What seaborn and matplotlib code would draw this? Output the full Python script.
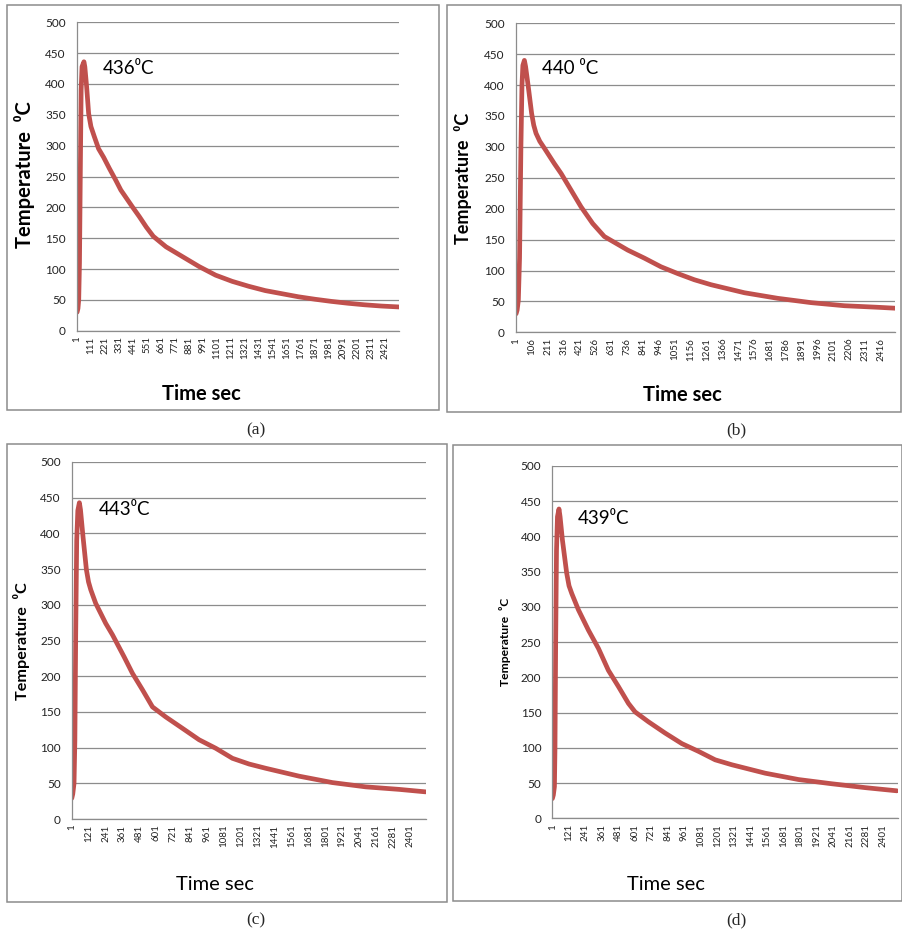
import matplotlib
matplotlib.use("Agg")
import matplotlib.pyplot as plt
from matplotlib.patches import Rectangle
import seaborn as sns

# -- datos (muestra, temperatura en C) ------------------------------------------
time_a = [1, 8, 14, 20, 27, 33, 40, 55, 62, 76, 92, 110, 136, 170, 210, 255, 305, 345, 385,
          435, 490, 545, 600, 700, 830, 960, 1090, 1220, 1350, 1480, 1610, 1740, 1870,
          2000, 2130, 2260, 2390, 2530]
temp_a = [30, 36, 50, 110, 266, 390, 428, 436, 428, 396, 352, 331, 315, 295, 281, 263, 244,
          228, 216, 201, 185, 168, 153, 136, 120, 104, 90, 80, 72, 65, 60, 55, 51,
          47.5, 44.5, 42, 40, 38.5]

time_b = [1, 8, 16, 24, 33, 40, 46, 56, 64, 82, 104, 118, 133, 158, 188, 254, 299, 365, 431,
          508, 585, 740, 850, 960, 1071, 1181, 1291, 1512, 1732, 1953, 2173, 2394, 2508]
temp_b = [30, 36, 52, 120, 300, 400, 432, 440, 430, 397, 354, 335, 322, 309, 298, 273, 257,
          230, 203, 176, 155, 133, 120, 106, 95, 85, 77, 64, 55, 48, 43, 40.5, 39]

time_c = [1, 8, 17, 23, 29, 36, 44, 55, 63, 81, 105, 120, 136, 171, 242, 290, 373, 432, 503,
          574, 668, 787, 905, 1024, 1142, 1260, 1379, 1615, 1852, 2089, 2325, 2514]
temp_c = [29, 35, 50, 110, 260, 390, 432, 443, 433, 395, 349, 332, 321, 302, 274, 258, 227,
          204, 181, 157, 143, 127, 111, 99, 85, 77, 71, 60, 51, 45, 41.5, 38]

time_d = [1, 8, 16, 20, 25, 31, 38, 49, 57, 74, 105, 122, 142, 190, 263, 336, 408, 481, 554,
          602, 699, 820, 942, 1063, 1184, 1305, 1548, 1790, 2032, 2275, 2505]
temp_d = [28, 33, 45, 100, 250, 380, 428, 439, 428, 395, 348, 330, 319, 296, 267, 241, 210,
          187, 163, 151, 137, 121, 106, 95, 83, 76, 64, 55, 49, 43.5, 39]

n_samples = {"a": 2530, "b": 2508, "c": 2514, "d": 2510}
ticks_x = {"a": list(range(1, 2422, 110)), "b": list(range(1, 2417, 105)),
           "c": list(range(1, 2402, 120)), "d": list(range(1, 2402, 120))}
ticks_y = [0, 50, 100, 150, 200, 250, 300, 350, 400, 450, 500]
peak_labels = {"a": "436\u2070C", "b": "440 \u2070C", "c": "443\u2070C", "d": "439\u2070C"}
captions = {"a": "(a)", "b": "(b)", "c": "(c)", "d": "(d)"}
datos = {"a": (time_a, temp_a), "b": (time_b, temp_b),
         "c": (time_c, temp_c), "d": (time_d, temp_d)}

# -- geometria en pixeles (imagen 902x935) --------------------------------------
W, H = 902, 935
layout = {
    # caja, ejes (l, t, r, b), ylabel (x, y, size), xlabel (x, y, peso), pico, caption
    "a": dict(box=(7, 5, 439, 410), ax=(77, 22.3, 399, 330.7), ylab=(25, 175, 14.5),
              xlab=(201.5, 394, "bold"), peak=(0.08, 0.85), cap=(256, 430)),
    "b": dict(box=(446.7, 5, 901, 411.7), ax=(516, 23.3, 895, 332.3), ylab=(463.3, 178, 13),
              xlab=(682.5, 395, "bold"), peak=(0.068, 0.855), cap=(736.7, 430)),
    "c": dict(box=(7.3, 444, 446.7, 901.7), ax=(71.7, 462, 425.7, 819), ylab=(21.7, 641, 11.6),
              xlab=(215.3, 885, "normal"), peak=(0.077, 0.868), cap=(256, 920)),
    "d": dict(box=(453.3, 445, 901.5, 901), ax=(552.3, 466, 897.7, 818.3), ylab=(505, 641.7, 8.7),
              xlab=(666, 885, "normal"), peak=(0.074, 0.852), cap=(736.7, 920)),
}

ROJO = "#C0504D"
GRIS = "#8C8C8C"

sns.set_theme(style="white")
plt.rcParams["font.family"] = ["Lato", "DejaVu Sans"]

fig = plt.figure(figsize=(W / 100, H / 100), dpi=100)
fig.patch.set_facecolor("white")

for key in ["a", "b", "c", "d"]:
    g = layout[key]
    x, y = datos[key]

    # marco del grafico (estilo Excel)
    x0, y0, x1, y1 = g["box"]
    fig.add_artist(Rectangle((x0 / W, 1 - y1 / H), (x1 - x0) / W, (y1 - y0) / H,
                             transform=fig.transFigure, fill=False,
                             edgecolor=GRIS, linewidth=1.1))

    l, t, r, b = g["ax"]
    ax = fig.add_axes([l / W, 1 - b / H, (r - l) / W, (b - t) / H])
    ax.set_facecolor("white")
    sns.lineplot(x=x, y=y, ax=ax, color=ROJO, linewidth=3.4,
                 solid_capstyle="round", solid_joinstyle="round")

    ax.set_xlim(0.5, n_samples[key] + 0.5)
    ax.set_ylim(0, 500)
    ax.set_yticks(ticks_y)
    ax.set_xticks(ticks_x[key])
    ax.set_xticklabels([str(v) for v in ticks_x[key]], rotation=90)
    ax.tick_params(axis="y", length=0, pad=8, labelsize=8.5, labelcolor="#222222")
    ax.tick_params(axis="x", length=0, pad=4, labelsize=7, labelcolor="#222222")
    ax.yaxis.grid(True, color=GRIS, linewidth=0.9)
    ax.set_axisbelow(True)
    for s in ["top", "right"]:
        ax.spines[s].set_visible(False)
    for s in ["left", "bottom"]:
        ax.spines[s].set_color(GRIS)
        ax.spines[s].set_linewidth(0.9)

    # etiquetas de ejes
    yx, yy, ysize = g["ylab"]
    ax.set_ylabel("Temperature  \u2070C", fontsize=ysize, fontweight="bold", color="black")
    ax.yaxis.set_label_coords((yx - l) / (r - l), (b - yy) / (b - t))
    xx, xy, xw = g["xlab"]
    ax.set_xlabel("Time sec", fontsize=14.5, fontweight=xw, color="black")
    ax.xaxis.set_label_coords((xx - l) / (r - l), (b - xy) / (b - t))
    ax.xaxis.label.set_va("center")
    ax.yaxis.label.set_va("center")

    # valor del pico
    px, py = g["peak"]
    ax.text(px, py, peak_labels[key], transform=ax.transAxes, fontsize=13.5,
            ha="left", va="center", color="black")

    cx, cy = g["cap"]
    fig.text(cx / W, 1 - cy / H, captions[key], fontsize=12.5, family="Liberation Serif",
             ha="center", va="center")

fig.savefig("out.png", dpi=100, facecolor="white")
plt.close(fig)
